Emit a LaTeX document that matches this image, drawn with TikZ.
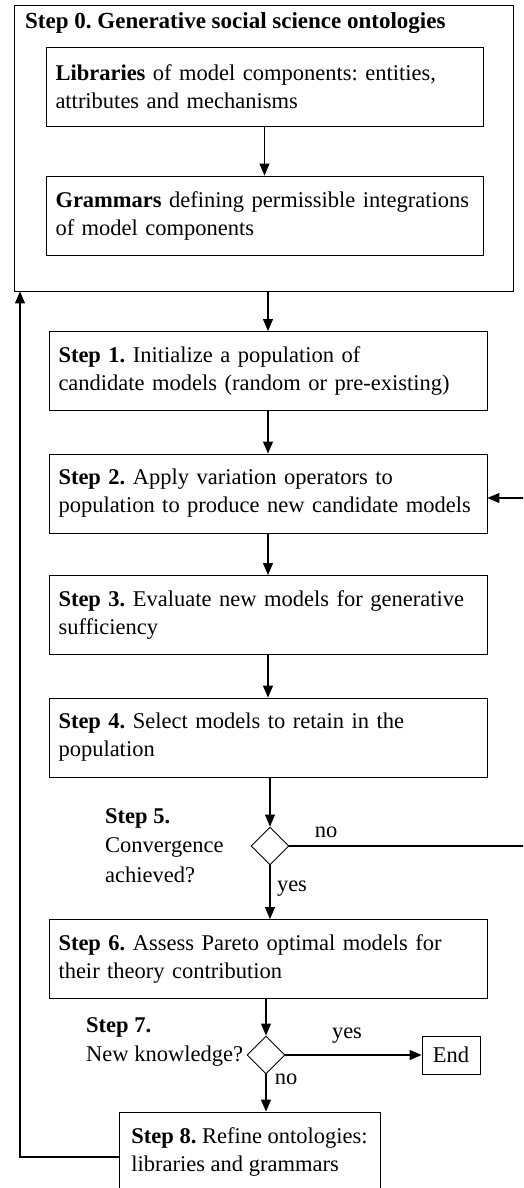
\documentclass[tikz,border=0pt]{standalone}
\usepackage{fontspec}
\setmainfont{Liberation Serif}
\usetikzlibrary{arrows.meta,shapes.geometric}
\frenchspacing
\hyphenpenalty=10000
\begin{document}
\begin{tikzpicture}[x=1pt,y=-1pt,
    stepBoxG/.style={draw,line width=0.9pt,align=left,text width=419pt,inner xsep=9.5pt,minimum height=79pt,font=\fontsize{22.5}{28}\selectfont},
    decisionG/.style={draw,diamond,line width=0.9pt,minimum width=38pt,minimum height=38pt,inner sep=0pt},
    flowArrowG/.style={-{Triangle[length=12pt,width=10pt]},line width=1.1pt},
    flowLineG/.style={line width=1.1pt},
    txtG/.style={font=\fontsize{22.5}{28}\selectfont,inner sep=0pt},
]
\clip (0,0) rectangle (523,1188);
% Step 0 container
\node[draw,line width=0.9pt,minimum width=499pt,minimum height=286pt,inner sep=0pt] (step0) at (263.5,148) {};
\node[txtG,anchor=west,font=\fontsize{23}{28}\selectfont] (step0t) at (25,23) {\textbf{Step 0. Generative social science ontologies}};
\node[stepBoxG,text width=418pt] (lib) at (264.5,86.5) {\textbf{Libraries} of model components: entities,\\attributes and mechanisms};
\node[stepBoxG,text width=418pt] (gram) at (264.5,215.5) {\textbf{Grammars} defining permissible integrations\\of model components};
\draw[flowArrowG] (lib.south) -- (gram.north);
% main loop
\node[stepBoxG] (s1) at (268,371) {\textbf{Step 1.} Initialize a population of\\candidate models (random or pre-existing)};
\node[stepBoxG] (s2) at (268,493.5) {\textbf{Step 2.} Apply variation operators to\\population to produce new candidate models};
\node[stepBoxG] (s3) at (268,615) {\textbf{Step 3.} Evaluate new models for generative\\sufficiency};
\node[stepBoxG] (s4) at (268,737.5) {\textbf{Step 4.} Select models to retain in the\\population};
\node[decisionG] (d5) at (270,846) {};
\node[txtG,anchor=north west,align=left,font=\fontsize{22.5}{29.5}\selectfont] (d5t) at (105,808) {\textbf{Step 5.}\\Convergence\\achieved?};
\node[stepBoxG] (s6) at (268,959) {\textbf{Step 6.} Assess Pareto optimal models for\\their theory contribution};
\node[decisionG] (d7) at (266,1055) {};
\node[txtG,anchor=north west,align=left,font=\fontsize{22.5}{29}\selectfont] (d7t) at (86,1017) {\textbf{Step 7.}\\New knowledge?};
\node[draw,line width=0.9pt,txtG,minimum width=58pt,minimum height=38pt] (endN) at (451,1055) {End};
\node[stepBoxG,text width=,minimum width=261pt,inner xsep=0pt] (s8) at (249.5,1151.5) {\textbf{Step 8.} Refine ontologies:\\libraries and grammars};
% connectors
\draw[flowArrowG] (s1.north |- step0.south) -- (s1.north);
\draw[flowArrowG] (s1.south) -- (s2.north);
\draw[flowArrowG] (s2.south) -- (s3.north);
\draw[flowArrowG] (s3.south) -- (s4.north);
\draw[flowArrowG] (d5.north |- s4.south) -- (d5.north);
\draw[flowArrowG] (d5.south) -- (d5.south |- s6.north);
\draw[flowArrowG] (d7.north |- s6.south) -- (d7.north);
\draw[flowArrowG] (d7.east) -- (endN.west);
\draw[flowArrowG] (d7.south) -- (d7.south |- s8.north);
% no -> back to step 2
\coordinate (loopR) at (530,846);
\coordinate (loopRT) at (530,498);
\draw[flowArrowG] (d5.east) -- (loopR) -- (loopRT) -- (s2.east |- loopRT);
% refine -> back to step 0
\coordinate (loopL) at (20,1157);
\draw[flowArrowG] (s8.west |- loopL) -- (loopL) -- (loopL |- step0.south);
% labels
\node[txtG] (no5) at (326,832) {no};
\node[txtG] (yes5) at (292,889) {yes};
\node[txtG] (yes7) at (347,1036) {yes};
\node[txtG] (no7) at (286,1079) {no};
\end{tikzpicture}
\end{document}
